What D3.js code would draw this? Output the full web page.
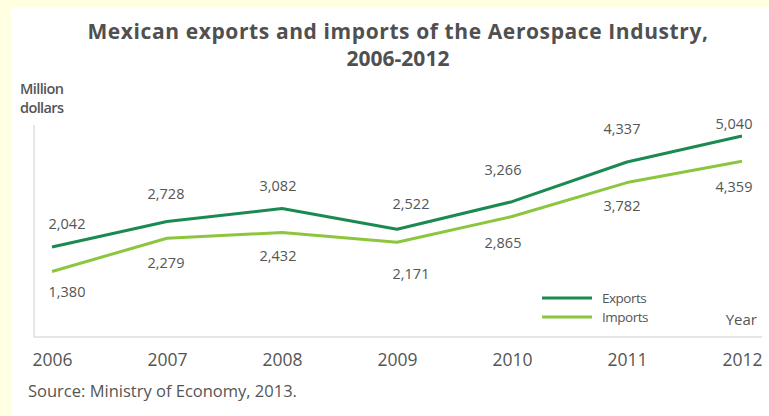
<!DOCTYPE html>
<html>
<head>
<meta charset="utf-8">
<script src="https://cdn.jsdelivr.net/npm/d3@7"></script>
<style>
  body { margin: 0; background: #ffffe2; }
  svg { display: block; font-family: "Open Sans", "Noto Sans", sans-serif; }
</style>
</head>
<body>
<svg id="chart" width="769" height="416"></svg>
<script>
const years = [2006, 2007, 2008, 2009, 2010, 2011, 2012];
const exportsData = [2042, 2728, 3082, 2522, 3266, 4337, 5040];
const importsData = [1380, 2279, 2432, 2171, 2865, 3782, 4359];
const seriesNames = ["Exports", "Imports"];

// label nudges (layout only)
const expLabelDy = [-23, -28, -22, -25, -32, -33, -12];
const impLabelDy = [21, 25, 23, 32, 26, 23, 26];
const labelDx = [15, -1, -4, 14, -9, -5, -8];

const svg = d3.select("#chart");
svg.append("rect").attr("x", 11).attr("y", 7).attr("width", 769).attr("height", 416).attr("fill", "#fff");

const x = d3.scaleLinear().domain([2006, 2012]).range([52, 742]);
const y = d3.scaleLinear().domain([-390, 5040]).range([337, 136]);

const textCol = "#555";

svg.append("text").attr("x", 398).attr("y", 39).attr("text-anchor", "middle")
  .attr("font-size", 21).attr("font-weight", 700).attr("fill", "#505050")
  .attr("letter-spacing", 0.6)
  .text("Mexican exports and imports of the Aerospace Industry,");
svg.append("text").attr("x", 398).attr("y", 66).attr("text-anchor", "middle")
  .attr("font-size", 21).attr("font-weight", 700).attr("fill", "#505050")
  .text("2006-2012");

svg.append("text").attr("x", 20).attr("y", 94).attr("font-size", 14.5).attr("fill", textCol)
  .attr("letter-spacing", -0.6).attr("font-weight", 600).text("Million");
svg.append("text").attr("x", 20).attr("y", 113).attr("font-size", 14.5).attr("fill", textCol)
  .attr("letter-spacing", -0.6).attr("font-weight", 600).text("dollars");

// axes
svg.append("line").attr("x1", 34).attr("x2", 34).attr("y1", 125).attr("y2", 337)
  .attr("stroke", "#ccc").attr("stroke-width", 1);
svg.append("line").attr("x1", 34).attr("x2", 762).attr("y1", 337).attr("y2", 337)
  .attr("stroke", "#ccc").attr("stroke-width", 1);

const xAxis = d3.axisBottom(x).tickValues(years).tickFormat(d3.format("d")).tickSize(0);
const gx = svg.append("g").attr("transform", "translate(0,351)").call(xAxis);
gx.select(".domain").remove();
gx.selectAll("text").attr("font-size", 17.5).attr("fill", textCol)
  .attr("font-family", "'Open Sans', sans-serif");

svg.append("text").attr("x", 757).attr("y", 325).attr("text-anchor", "end")
  .attr("font-size", 15).attr("fill", textCol).text("Year");

const line = d3.line().x((d, i) => x(years[i])).y(d => y(d));
const colors = ["#1a8a52", "#8cc63f"];
[exportsData, importsData].forEach((s, k) => {
  svg.append("path").datum(s).attr("d", line).attr("fill", "none")
    .attr("stroke", colors[k]).attr("stroke-width", 3).attr("stroke-linejoin", "round");
});

svg.append("g").selectAll("text").data(exportsData).join("text")
  .attr("x", (d, i) => x(years[i]) + labelDx[i])
  .attr("y", (d, i) => y(d) + expLabelDy[i] + 5)
  .attr("text-anchor", "middle").attr("font-size", 14.5).attr("fill", textCol)
  .text(d => d3.format(",")(d));
svg.append("g").selectAll("text").data(importsData).join("text")
  .attr("x", (d, i) => x(years[i]) + labelDx[i])
  .attr("y", (d, i) => y(d) + impLabelDy[i] + 5)
  .attr("text-anchor", "middle").attr("font-size", 14.5).attr("fill", textCol)
  .text(d => d3.format(",")(d));

// legend
const leg = svg.append("g");
seriesNames.forEach((n, k) => {
  leg.append("line").attr("x1", 542).attr("x2", 592).attr("y1", 298 + k * 19).attr("y2", 298 + k * 19)
    .attr("stroke", colors[k]).attr("stroke-width", 3);
  leg.append("text").attr("x", 602).attr("y", 303 + k * 19).attr("font-size", 13.5)
    .attr("fill", textCol).attr("letter-spacing", -0.5).text(n);
});

svg.append("text").attr("x", 28).attr("y", 397).attr("font-size", 16.5).attr("fill", textCol)
  .text("Source: Ministry of Economy, 2013.");
</script>
</body>
</html>
